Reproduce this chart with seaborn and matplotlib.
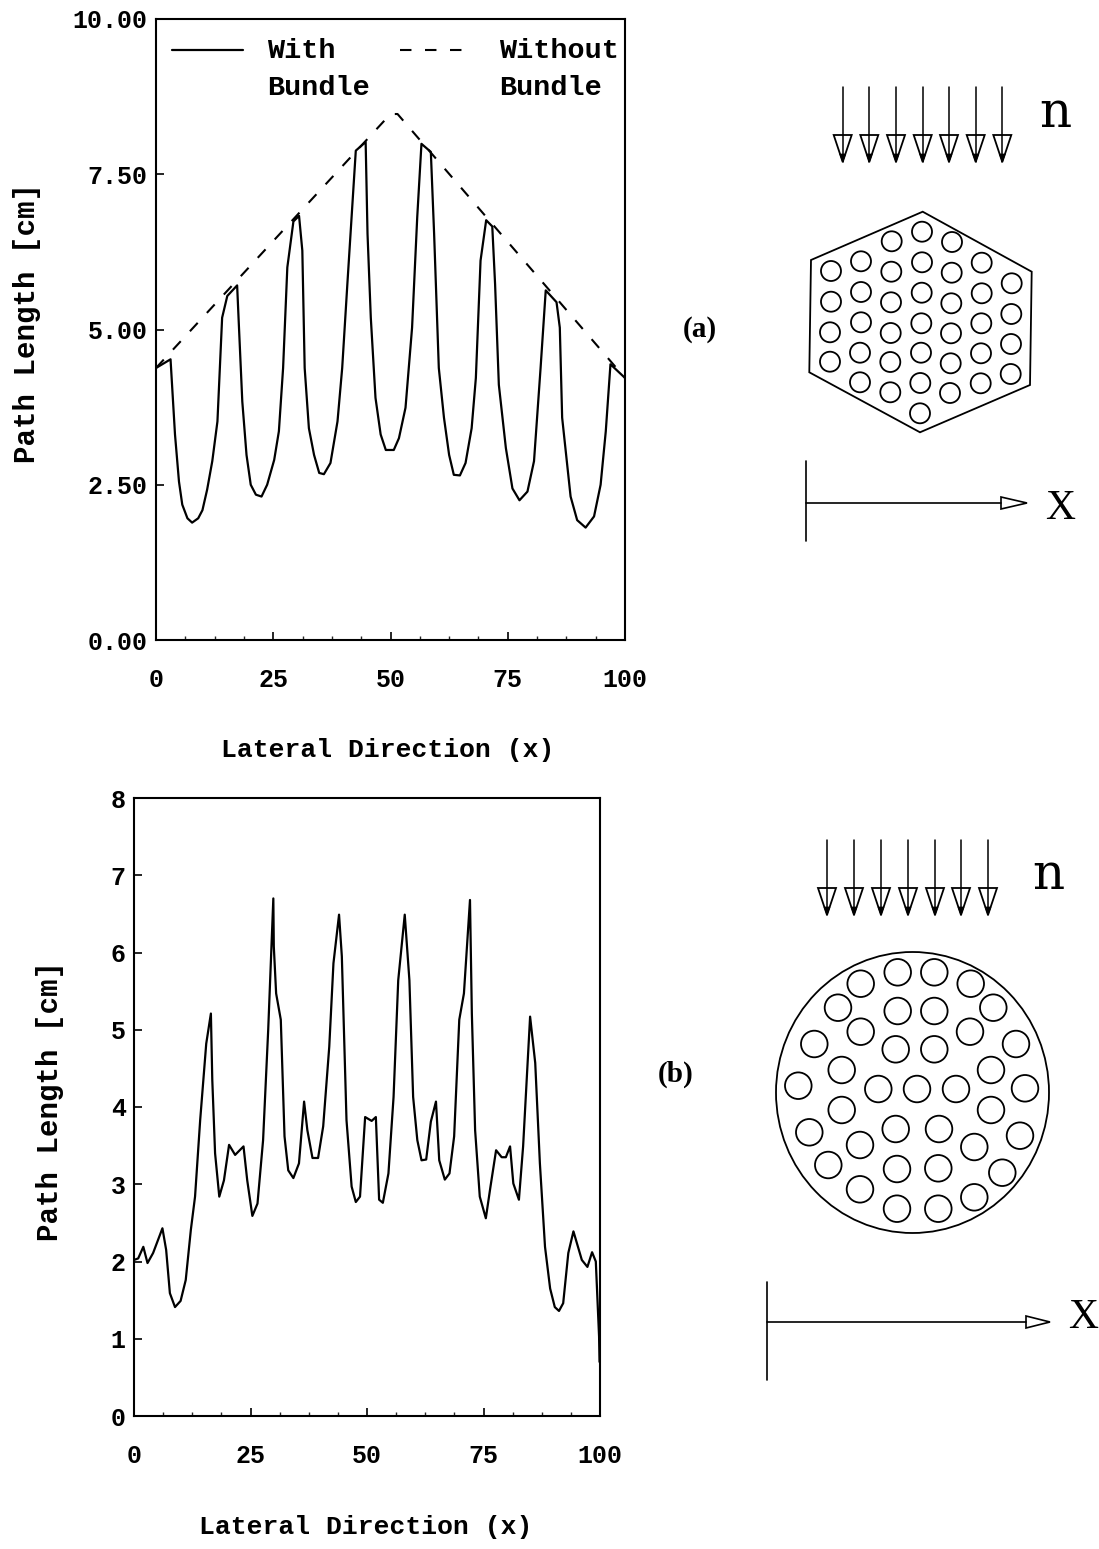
import matplotlib
matplotlib.use('Agg')
import matplotlib.pyplot as plt
from matplotlib.patches import Polygon, Circle, Ellipse
from matplotlib.ticker import MultipleLocator
import pandas as pd
import seaborn as sns

# panel (a), path length with and without the bundle
with_x = [0, 3.1, 3.5, 4.05, 4.9, 5.6, 6.7, 7.7, 9.0, 9.9, 10.9, 12.0, 13.1, 14.1, 15.2, 17.3, 17.6, 18.4, 19.3, 20.2,
          21.3, 22.5, 23.7, 25.2, 26.2, 27.1, 28.0, 29.3, 30.5, 31.2, 31.7, 32.6, 33.7, 34.8, 35.8, 37.2, 38.7, 39.7,
          40.8, 42.6, 44.7, 45.1, 45.8, 46.8, 47.9, 49.0, 50.7, 51.8, 53.2, 54.6, 55.7, 56.6, 58.6, 59.3, 60.3, 61.4,
          62.5, 63.5, 64.8, 66.0, 67.3, 68.2, 69.2, 70.4, 71.7, 72.3, 73.1, 74.6, 76.0, 77.5, 79.2, 80.6, 82.0, 83.1,
          85.4, 86.1, 86.6, 88.4, 89.8, 91.6, 93.4, 94.8, 95.9, 96.9, 100]
with_y = [4.38, 4.52, 4.01, 3.31, 2.55, 2.18, 1.96, 1.89, 1.96, 2.09, 2.42, 2.88, 3.52, 5.19, 5.54, 5.71, 5.19, 3.84,
          2.98, 2.50, 2.34, 2.31, 2.50, 2.90, 3.36, 4.38, 6.00, 6.74, 6.83, 6.27, 4.38, 3.41, 2.98, 2.69, 2.67, 2.85,
          3.52, 4.38, 5.73, 7.88, 8.02, 6.54, 5.19, 3.90, 3.31, 3.06, 3.06, 3.25, 3.74, 5.03, 6.81, 7.99, 7.86, 6.54,
          4.38, 3.58, 2.98, 2.66, 2.65, 2.85, 3.41, 4.22, 6.11, 6.76, 6.66, 5.73, 4.11, 3.09, 2.44, 2.25, 2.39, 2.88,
          4.38, 5.63, 5.44, 5.03, 3.58, 2.31, 1.93, 1.81, 1.99, 2.50, 3.36, 4.44, 4.22]
without_x = [0, 50.0, 51.5, 100]
without_y = [4.38, 8.47, 8.47, 4.22]

# panel (b), path length
b_x = [0, 0.9, 2.0, 2.9, 4.1, 6.1, 6.9, 7.7, 8.8, 10.0, 11.1, 12.2, 13.1, 14.2, 15.5, 16.5, 16.8, 17.4, 18.3, 19.3,
       20.4, 21.7, 23.5, 24.3, 25.4, 26.5, 27.7, 28.8, 29.9, 30.0, 30.5, 31.5, 32.3, 33.1, 34.2, 35.4, 36.5, 37.2,
       38.3, 39.5, 40.6, 41.9, 42.8, 44.0, 44.6, 45.6, 46.7, 47.6, 48.5, 49.6, 51.0, 51.9, 52.6, 53.4, 54.6, 55.7,
       56.7, 58.1, 59.1, 59.9, 60.8, 61.7, 62.7, 63.7, 64.8, 65.5, 66.7, 67.7, 68.7, 69.8, 70.8, 72.1, 72.5, 73.2,
       74.2, 75.5, 76.5, 77.7, 78.9, 79.8, 80.7, 81.4, 82.6, 83.5, 85.0, 86.1, 87.1, 88.2, 89.3, 90.3, 91.2, 92.1,
       93.2, 94.3, 96.1, 97.3, 98.3, 99.1, 99.8, 99.9]
b_y = [2.02, 2.04, 2.19, 1.98, 2.11, 2.43, 2.15, 1.59, 1.41, 1.49, 1.76, 2.41, 2.84, 3.83, 4.82, 5.21, 4.35, 3.40,
       2.84, 3.05, 3.51, 3.38, 3.49, 3.05, 2.59, 2.75, 3.57, 5.00, 6.70, 6.08, 5.47, 5.13, 3.62, 3.18, 3.08, 3.27,
       4.07, 3.70, 3.34, 3.34, 3.75, 4.78, 5.86, 6.49, 5.95, 3.83, 2.97, 2.77, 2.84, 3.87, 3.82, 3.87, 2.80, 2.76,
       3.14, 4.13, 5.64, 6.49, 5.64, 4.13, 3.57, 3.31, 3.32, 3.81, 4.07, 3.31, 3.06, 3.14, 3.62, 5.13, 5.47, 6.68,
       5.21, 3.70, 2.84, 2.56, 2.97, 3.44, 3.35, 3.35, 3.49, 3.01, 2.80, 3.49, 5.17, 4.57, 3.27, 2.19, 1.65, 1.41,
       1.36, 1.46, 2.11, 2.39, 2.02, 1.93, 2.12, 2.00, 1.03, 0.7]

a_yticks = [0, 2.5, 5, 7.5, 10]
a_ylabels = ['0.00', '2.50', '5.00', '7.50', '10.00']
b_yticks = [0, 1, 2, 3, 4, 5, 6, 7, 8]
xticks = [0, 25, 50, 75, 100]

# schematics, in picture pixels
hexagon = [(922.7, 211.7), (1031.7, 271.7), (1030, 385), (920, 432.3), (809.3, 372.3), (811, 260)]
hex_tubes = [(831, 271), (831, 301.7), (830, 332.3), (830, 361.7),
             (861, 261.3), (861, 292), (861, 322.3), (860, 352.7), (860, 382.3),
             (891.7, 241.3), (891.3, 271.7), (891, 302.3), (890.7, 333), (890.3, 362), (890.3, 392.3),
             (922, 231.7), (922, 262.3), (921.7, 292.7), (921.3, 323.3), (921, 352.7), (920.3, 383), (920, 413.3),
             (952, 242), (951.7, 272.7), (951.3, 303.3), (951, 333.3), (950.7, 363.3), (950, 393),
             (981.7, 262.7), (981.7, 293.3), (981.3, 323.3), (981, 353.3), (980.7, 383.3),
             (1011.7, 283.3), (1011.3, 314), (1011, 344), (1010.7, 374)]
circle_tubes = [(897.7, 972.3), (934.3, 972.3), (860.7, 983.7), (970.7, 983.7), (838, 1007.7), (993.3, 1007.7),
                (897.7, 1011), (934.3, 1011), (860.7, 1031.7), (970, 1031.7), (814.3, 1044), (1016, 1044),
                (895.7, 1049.3), (934.3, 1049.3), (841.7, 1070), (991, 1070), (798.3, 1085.7), (1025, 1088.3),
                (878.3, 1089), (917, 1089), (956, 1089), (841.7, 1110), (991, 1110), (809.3, 1132.3),
                (1020, 1135.7), (895.7, 1129), (939, 1129), (860, 1145), (974.3, 1147), (828.3, 1165),
                (1002.3, 1172.7), (897, 1169), (938.3, 1168.3), (860, 1189.3), (974.3, 1197.3), (897, 1208.7),
                (938.3, 1208.7)]
a_arrows = [842.7, 869.3, 896, 922.7, 949, 975.7, 1002.3]
b_arrows = [827, 854, 881, 908, 935, 961, 988]

sns.set_theme(style='white')
plt.rcParams['font.family'] = ['Liberation Mono', 'DejaVu Sans Mono']
plt.rcParams['font.weight'] = 'bold'
plt.rcParams['text.color'] = 'black'
W, H = 1099, 1549
TICK = 18


def place(left, right, top, bottom):
    return [left / W, 1 - bottom / H, (right - left) / W, (bottom - top) / H]


def style(ax, ylim, yticks, ylabels, xpad):
    ax.set_xlim(0, 100)
    ax.set_ylim(*ylim)
    ax.set_xticks(xticks)
    ax.set_yticks(yticks)
    ax.set_yticklabels(ylabels)
    ax.xaxis.set_minor_locator(MultipleLocator(6.25))
    ax.tick_params(axis='both', which='major', direction='in', length=6, width=1.2, labelsize=TICK, colors='black',
                   bottom=True, left=True)
    ax.tick_params(axis='x', which='minor', direction='in', length=3, width=1.0, bottom=True)
    ax.tick_params(axis='x', which='major', pad=xpad)
    ax.tick_params(axis='y', which='major', pad=6)
    for s in ax.spines.values():
        s.set_linewidth(1.5)
        s.set_color('black')
    ax.set_xlabel('')
    ax.set_ylabel('')


fig = plt.figure(figsize=(W / 100, H / 100), dpi=100)

ax1 = fig.add_axes(place(156, 625, 19, 640))
df = pd.DataFrame({'x': with_x, 'y': with_y})
sns.lineplot(data=df, x='x', y='y', color='black', lw=1.6, estimator=None, sort=False, ax=ax1)
df = pd.DataFrame({'x': without_x, 'y': without_y})
sns.lineplot(data=df, x='x', y='y', color='black', lw=1.5, estimator=None, sort=False, dashes=(5.5, 6.5), ax=ax1)
style(ax1, (0, 10), a_yticks, a_ylabels, 20)

ax2 = fig.add_axes(place(134, 600, 798, 1416))
df = pd.DataFrame({'x': b_x, 'y': b_y})
sns.lineplot(data=df, x='x', y='y', color='black', lw=1.6, estimator=None, sort=False, ax=ax2)
style(ax2, (0, 8), b_yticks, [str(v) for v in b_yticks], 20)

# everything outside the two plots goes on a picture sized layer
top = fig.add_axes([0, 0, 1, 1], facecolor='none')
top.set_xlim(0, W)
top.set_ylim(H, 0)
top.axis('off')


def label(x, y, s, fontsize, **kw):
    top.text(x, y, s, ha=kw.pop('ha', 'center'), va='center', fontsize=fontsize, **kw)


label(388, 750, 'Lateral Direction (x)', 19)
label(366, 1527, 'Lateral Direction (x)', 19)
label(27, 323, 'Path Length [cm]', 21, rotation=90)
label(50, 1101, 'Path Length [cm]', 21, rotation=90)

top.plot([172, 243], [50, 50], color='black', lw=1.6)
top.plot([400, 472], [50, 50], color='black', lw=1.5, dashes=(5.5, 6.5))
label(267, 51, 'With', 20.5, ha='left')
label(267, 88, 'Bundle', 20.5, ha='left')
label(499, 51, 'Without', 20.5, ha='left')
label(499, 88, 'Bundle', 20.5, ha='left')


def arrows(xs, y0, y1, y2):
    for x in xs:
        top.add_patch(Polygon([(x - 9, y1), (x + 9, y1), (x, y2)], fc='white', ec='black', lw=1.3))
        top.add_patch(Polygon([(x - 3, y2 - 8), (x + 3, y2 - 8), (x, y2)], fc='black', ec='black', lw=0.5))
        top.plot([x, x], [y0, y2], color='black', lw=1.1)


def axis_mark(x, y0, y1, ym, x1, x2):
    top.plot([x, x], [y0, y1], color='black', lw=1.2)
    top.plot([x, x1], [ym, ym], color='black', lw=1.2)
    top.add_patch(Polygon([(x1, ym - 6), (x2, ym), (x1, ym + 6)], fc='white', ec='black', lw=1.2))


def tubes(points, r):
    for p in points:
        top.add_patch(Circle(p, r, fc='none', ec='black', lw=1.3))


arrows(a_arrows, 87, 135, 162)
top.add_patch(Polygon(hexagon, fc='none', ec='black', lw=1.3))
tubes(hex_tubes, 10)
axis_mark(806, 461, 541, 503, 1001, 1027)

arrows(b_arrows, 840, 888, 915)
top.add_patch(Ellipse((912.5, 1092.5), 273, 281, fc='none', ec='black', lw=1.3))
tubes(circle_tubes, 13.3)
axis_mark(767, 1282, 1380, 1322, 1026, 1050)

serif = ['Liberation Serif', 'DejaVu Serif']
label(1055, 113, 'n', 36, family='DejaVu Serif', fontweight='normal')
label(1060, 509, 'X', 30, family=serif, fontweight='normal')
label(1048, 875, 'n', 36, family='DejaVu Serif', fontweight='normal')
label(1083, 1318, 'X', 30, family=serif, fontweight='normal')
label(700, 329, '(a)', 21, family=serif)
label(676, 1074, '(b)', 21, family=serif)

fig.savefig('out.png', dpi=100, facecolor='white')
